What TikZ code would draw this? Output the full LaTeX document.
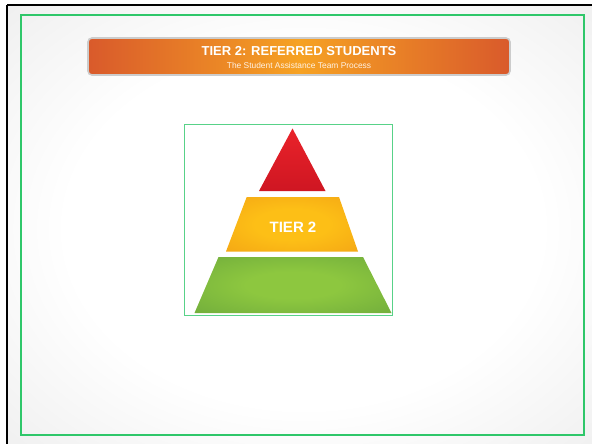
\documentclass[tikz,border=0pt]{standalone}
\usepackage{fontspec}
\setmainfont{Liberation Sans}
\usepackage{xcolor}
\usetikzlibrary{calc}

\definecolor{bingkaihijau}{HTML}{2FC76A}
\definecolor{jinggaujung}{HTML}{D95A2B}
\definecolor{jinggatengah}{HTML}{F6A223}
\definecolor{merahatas}{HTML}{E9232A}
\definecolor{merahbawah}{HTML}{CF1622}
\definecolor{kuningdalam}{HTML}{FDBF16}
\definecolor{kuningluar}{HTML}{EC9013}
\definecolor{hijaudalam}{HTML}{8DC73F}
\definecolor{hijauluar}{HTML}{579539}
\definecolor{abutepi}{HTML}{D0D0D0}
\definecolor{abutengah}{HTML}{E1E1E1}

\pgfdeclareradialshading{latar}{\pgfpoint{0bp}{0bp}}{color(0bp)=(white); color(20bp)=(white);
    color(50bp)=(abutengah); color(70bp)=(abutepi)}
\pgfdeclareradialshading{kuning}{\pgfpoint{0bp}{0bp}}{color(0bp)=(kuningdalam); color(14bp)=(kuningdalam);
    color(58bp)=(kuningluar)}
\pgfdeclareradialshading{hijau}{\pgfpoint{0bp}{0bp}}{color(0bp)=(hijaudalam); color(12bp)=(hijaudalam);
    color(60bp)=(hijauluar)}

\begin{document}
\begin{tikzpicture}[x=1pt,y=-1pt]
    \useasboundingbox (0,0) rectangle (592,444);

    % latar belakang slide
    \fill[white] (0,0) rectangle (592,444);
    \shade[shading=latar] (7,5) rectangle (600,452);
    \draw[black, line width=2.2pt] (7,5) -- (592,5);
    \draw[black, line width=2.2pt] (7,5) -- (7,444);
    \draw[bingkaihijau, line width=1.4pt] (21,15) rectangle (584,435);

    % pita judul
    \shade[left color=jinggaujung, right color=jinggaujung, middle color=jinggatengah,
        draw=black!20, line width=1.6pt, rounded corners=4pt] (88,38) rectangle (510,75);
    \node[text=white, font=\fontsize{13}{14}\selectfont\bfseries] (judul) at (299,51.5)
        {TIER 2: REFERRED STUDENTS};
    \node[text=orange!10, font=\fontsize{8.4}{9}\selectfont] (subjudul) at (299,65)
        {The Student Assistance Team Process};

    % kotak gambar
    \draw[bingkaihijau!80, fill=white, line width=0.9pt] (184,124) rectangle (392,315);

    % titik-titik piramida
    \coordinate (P) at (292.5,128.5);
    \coordinate (Ra) at (259,191);
    \coordinate (Rb) at (325.5,191);
    \coordinate (Ka) at (246.7,197);
    \coordinate (Kb) at (339,197);
    \coordinate (Kc) at (358,251.5);
    \coordinate (Kd) at (226,251.5);
    \coordinate (Ha) at (218.5,257);
    \coordinate (Hb) at (363,257);
    \coordinate (Hc) at (391.5,313);
    \coordinate (Hd) at (194.5,313);

    % pembuatan piramida
    \shade[top color=merahatas, bottom color=merahbawah] (P) -- (Ra) -- (Rb) -- cycle;
    \shade[shading=kuning] (Ka) -- (Kb) -- (Kc) -- (Kd) -- cycle;
    \shade[shading=hijau] (Ha) -- (Hb) -- (Hc) -- (Hd) -- cycle;

    \node[text=white, font=\fontsize{15}{16}\selectfont\bfseries] (tier) at (293,227) {TIER 2};
\end{tikzpicture}
\end{document}
